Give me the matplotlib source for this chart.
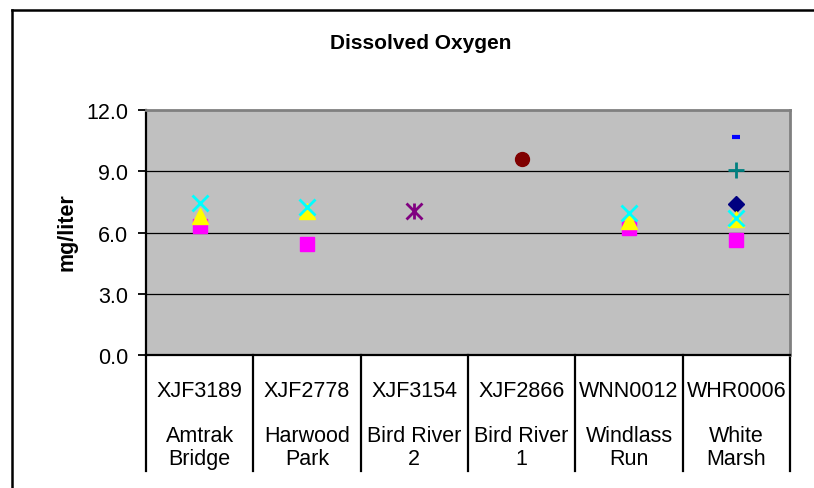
import numpy as np
import matplotlib
matplotlib.use("Agg")
import matplotlib.pyplot as plt
from matplotlib.path import Path
from matplotlib.lines import Line2D
import matplotlib.transforms as mtransforms

plt.rcParams['font.family'] = ['Liberation Sans', 'DejaVu Sans']

# ---- data ----
codes = ["XJF3189", "XJF2778", "XJF3154", "XJF2866", "WNN0012", "WHR0006"]
names = ["Amtrak\nBridge", "Harwood\nPark", "Bird River\n2", "Bird River\n1",
         "Windlass\nRun", "White\nMarsh"]
nan = np.nan
s_diamond = [nan, nan, nan, nan, nan, 7.40]
s_square = [6.32, 5.44, nan, nan, 6.24, 5.65]
s_triangle = [6.79, 7.06, nan, nan, 6.58, 6.68]
s_x = [7.46, 7.25, nan, nan, 6.97, 6.69]
s_star = [nan, nan, 7.06, nan, nan, nan]
s_circle = [nan, nan, nan, 9.62, nan, nan]
s_plus = [nan, nan, nan, nan, nan, 9.08]
s_dash = [nan, nan, nan, nan, nan, 10.67]
yticks = [0.0, 3.0, 6.0, 9.0, 12.0]

W, H = 814, 489
fig = plt.figure(figsize=(W / 100, H / 100), dpi=100)
fig.patch.set_facecolor("white")

L, R, T, B = 146, 790, 111, 356
ax = fig.add_axes([L / W, 1 - B / H, (R - L) / W, (B - T) / H])
ax.set_facecolor("#C0C0C0")

xpos = np.arange(len(codes))

star_path = Path([(0, -1), (0, 1), (-1, -1), (1, 1), (-1, 1), (1, -1)],
                 [Path.MOVETO, Path.LINETO, Path.MOVETO, Path.LINETO,
                  Path.MOVETO, Path.LINETO])

series = [
    (s_diamond, dict(marker="D", ms=8.0, color="#000080", mec="#000080")),
    (s_square, dict(marker="s", ms=10, color="#FF00FF", mec="#FF00FF")),
    (s_triangle, dict(marker="^", ms=11.5, color="#FFFF00", mec="#FFFF00")),
    (s_x, dict(marker="x", ms=11, color="#00FFFF", mec="#00FFFF", mew=2)),
    (s_star, dict(marker=star_path, ms=11.5, color="#800080", mec="#800080", mew=2)),
    (s_circle, dict(marker="o", ms=10, color="#800000", mec="#800000")),
    (s_plus, dict(marker="+", ms=11.5, color="#008080", mec="#008080", mew=2)),
    (s_dash, dict(marker="_", ms=6, color="#0000FF", mec="#0000FF", mew=3)),
]
for vals, kw in series:
    ax.plot(xpos, vals, linestyle="none", zorder=3, clip_on=False, **kw)

FS = 15.5
ax.set_xlim(-0.5, len(codes) - 0.5)
ax.set_ylim(0, 12)
ax.set_yticks(yticks)
ax.set_yticklabels([f"{v:.1f}" for v in yticks], fontsize=FS)
ax.tick_params(axis="y", direction="out", length=6, width=1.3, pad=7, color="black")
ax.set_xticks([])
for v in yticks[1:-1]:
    ax.axhline(v, color="black", lw=0.9, zorder=1)

for side in ["top", "right"]:
    ax.spines[side].set_color("#808080")
    ax.spines[side].set_linewidth(2)
for side in ["left", "bottom"]:
    ax.spines[side].set_color("black")
    ax.spines[side].set_linewidth(1.6)

# category table below axis
tr = mtransforms.blended_transform_factory(ax.transData, fig.transFigure)
bottom_ext = 1 - 472 / H
for xd in np.arange(-0.5, len(codes), 1.0):
    ax.add_line(Line2D([xd, xd], [1 - B / H, bottom_ext], transform=tr,
                       color="black", lw=1.6, clip_on=False))
for i, (c, n) in enumerate(zip(codes, names)):
    ax.text(i, 1 - 397 / H, c, transform=tr, ha="center", va="baseline", fontsize=FS)
    lines = n.split("\n")
    for j, ln in enumerate(lines):
        ax.text(i, 1 - (442 + 23.5 * j) / H, ln, transform=tr, ha="center",
                va="baseline", fontsize=FS)

# title and y label
fig.text(421 / W, 1 - 49.3 / H, "Dissolved Oxygen", ha="center", va="baseline",
         fontsize=15, fontweight="bold")
fig.text(67 / W, 1 - 232 / H, "mg/liter", ha="center", va="center", rotation=90,
         fontsize=15.5, fontweight="bold")

# outer chart frame
fx, fy = 12 / W, 1 - 11 / H
fig.add_artist(Line2D([fx, fx], [fy, -0.05], transform=fig.transFigure,
                      color="black", lw=1.8))
fig.add_artist(Line2D([fx, 1.05], [fy, fy], transform=fig.transFigure,
                      color="black", lw=1.8))

fig.savefig("out.png", dpi=100)
